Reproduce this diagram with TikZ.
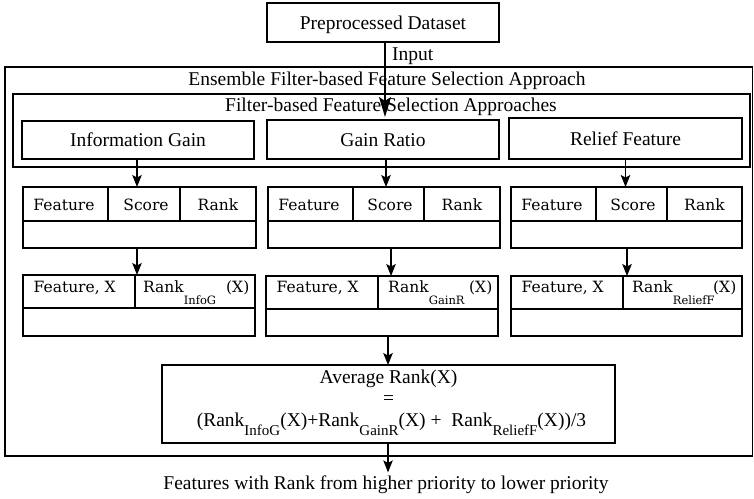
\documentclass[tikz,border=0pt]{standalone}
\usepackage{fontspec}
\setmainfont{Liberation Serif}
\newfontfamily\tabfont{DejaVu Serif}
\usetikzlibrary{arrows.meta,calc}
\newcommand\tsubx[1]{\raisebox{-12pt}{\fontsize{11.5}{11.5}\selectfont #1}}
\newcommand\asubx[1]{\raisebox{-9pt}{\fontsize{15}{15}\selectfont #1}}
\begin{document}
\begin{tikzpicture}[x=1pt,y=-1pt,
  box/.style={draw=black, line width=1.4pt, inner sep=0pt, outer sep=0pt,
    font=\fontsize{19.5}{22}\selectfont, text height=13pt, text depth=0pt},
  txt/.style={inner sep=0pt, anchor=base, font=\fontsize{19.5}{22}\selectfont},
  ttxt/.style={inner sep=0pt, anchor=base, font=\tabfont\fontsize{15.5}{18}\selectfont},
  divl/.style={line width=1.4pt},
  arr/.style={line width=1.1pt, -{Stealth[length=12pt,width=9.5pt,inset=2.5pt]}},
  bigarr/.style={line width=1.1pt, -{Stealth[length=20pt,width=12pt,inset=4pt]}}]
\useasboundingbox (0,0) rectangle (754,498);

% top box
\node[box, minimum width=232pt, minimum height=39pt] (pre) at (383,22.5) {Preprocessed Dataset};

% outer and inner frames
\node[box, minimum width=747.5pt, minimum height=389pt] (outer) at (378.75,261.5) {};
\node[box, minimum width=737pt, minimum height=73pt] (inner) at (381.5,130.5) {};
\node[txt] (enslab) at (387,85) {Ensemble Filter-based Feature Selection Approach};
\node[txt] (fillab) at (391,111.7) {Filter-based Feature Selection Approaches};

% method boxes
\node[box, minimum width=232pt, minimum height=38pt] (ig) at (138,140) {Information Gain};
\node[box, minimum width=232pt, minimum height=39pt] (gr) at (383,139.5) {Gain Ratio};
\node[box, minimum width=233pt, minimum height=41pt] (rf) at (625.5,138.5) {Relief Feature};

% input arrow
\node[txt, anchor=base west] (inlab) at (392,60) {Input};
\draw[bigarr] ([xshift=2pt]pre.south) -- ([xshift=2pt,yshift=3pt]gr.north);

% tables 1
\node[box, minimum width=233pt, minimum height=61pt] (t1a) at (139.5,217.5) {};
\node[box, minimum width=232pt, minimum height=61pt] (t1b) at (384,217.5) {};
\node[box, minimum width=231pt, minimum height=61pt] (t1c) at (626.5,217.5) {};
\draw[divl] (23,221) -- (256,221) (108,187) -- (108,221) (180,187) -- (180,221);
\draw[divl] (268,221) -- (500,221) (353,187) -- (353,221) (424,187) -- (424,221);
\draw[divl] (511,221) -- (742,221) (596,187) -- (596,221) (667,187) -- (667,221);
\node[ttxt] (f1a) at (64,210) {Feature};
\node[ttxt] (s1a) at (146,210) {Score};
\node[ttxt] (r1a) at (218,210) {Rank};
\node[ttxt] (f1b) at (309,210) {Feature};
\node[ttxt] (s1b) at (390,210) {Score};
\node[ttxt] (r1b) at (462,210) {Rank};
\node[ttxt] (f1c) at (552,210) {Feature};
\node[ttxt] (s1c) at (633,210) {Score};
\node[ttxt] (r1c) at (704.5,210) {Rank};

% tables 2
\node[box, minimum width=232pt, minimum height=61pt] (t2a) at (139,305.5) {};
\node[box, minimum width=232pt, minimum height=60pt] (t2b) at (382,306) {};
\node[box, minimum width=231pt, minimum height=60pt] (t2c) at (626.5,306) {};
\draw[divl] (23,308) -- (255,308) (135,275) -- (135,308);
\draw[divl] (266,309) -- (498,309) (378,276) -- (378,309);
\draw[divl] (511,309) -- (742,309) (623,276) -- (623,309);
\node[ttxt, anchor=base west] (fxa) at (33.5,292.5) {Feature, X};
\node[ttxt, anchor=base west] (rka) at (143,292.5) {Rank\tsubx{InfoG}};
\node[ttxt, anchor=base east] (xa) at (249.5,292.5) {(X)};
\node[ttxt, anchor=base west] (fxb) at (276.5,292.5) {Feature, X};
\node[ttxt, anchor=base west] (rkb) at (388,292.5) {Rank\tsubx{GainR}};
\node[ttxt, anchor=base east] (xb) at (492.5,292.5) {(X)};
\node[ttxt, anchor=base west] (fxc) at (521.5,292.5) {Feature, X};
\node[ttxt, anchor=base west] (rkc) at (632,292.5) {Rank\tsubx{ReliefF}};
\node[ttxt, anchor=base east] (xc) at (736.5,292.5) {(X)};

% average box
\node[box, minimum width=453pt, minimum height=78pt] (avg) at (388.5,404) {};
\node[txt] (avl1) at (388.5,383.3) {Average Rank(X)};
\node[txt] (avl2) at (388.5,404) {=};
\node[txt] (avl3) at (391.5,426) {(Rank\asubx{InfoG}(X)+Rank\asubx{GainR}(X) +\ \ Rank\asubx{ReliefF}(X))/3};

% output text
\node[txt] (outtxt) at (386,489.3) {Features with Rank from higher priority to lower priority};

% arrows
\draw[arr] ([xshift=-1pt]ig.south) -- ([xshift=-1pt]ig.south |- t1a.north);
\draw[arr] ([xshift=3pt]gr.south) -- ([xshift=3pt]gr.south |- t1b.north);
\draw[arr] (rf.south) -- (rf.south |- t1c.north);
\draw[arr] ([xshift=-2.5pt]t1a.south) -- ([xshift=-2pt]t2a.north);
\draw[arr] ([xshift=7pt]t1b.south) -- ([xshift=9pt]t2b.north);
\draw[arr] ([xshift=0.5pt]t1c.south) -- ([xshift=0.5pt]t2c.north);
\draw[arr] ([xshift=6pt]t2b.south) -- ([xshift=-0.5pt]avg.north);
\draw[arr] ([xshift=-0.5pt]avg.south) -- ([yshift=3pt,xshift=2pt]outtxt.north);
\end{tikzpicture}
\end{document}
